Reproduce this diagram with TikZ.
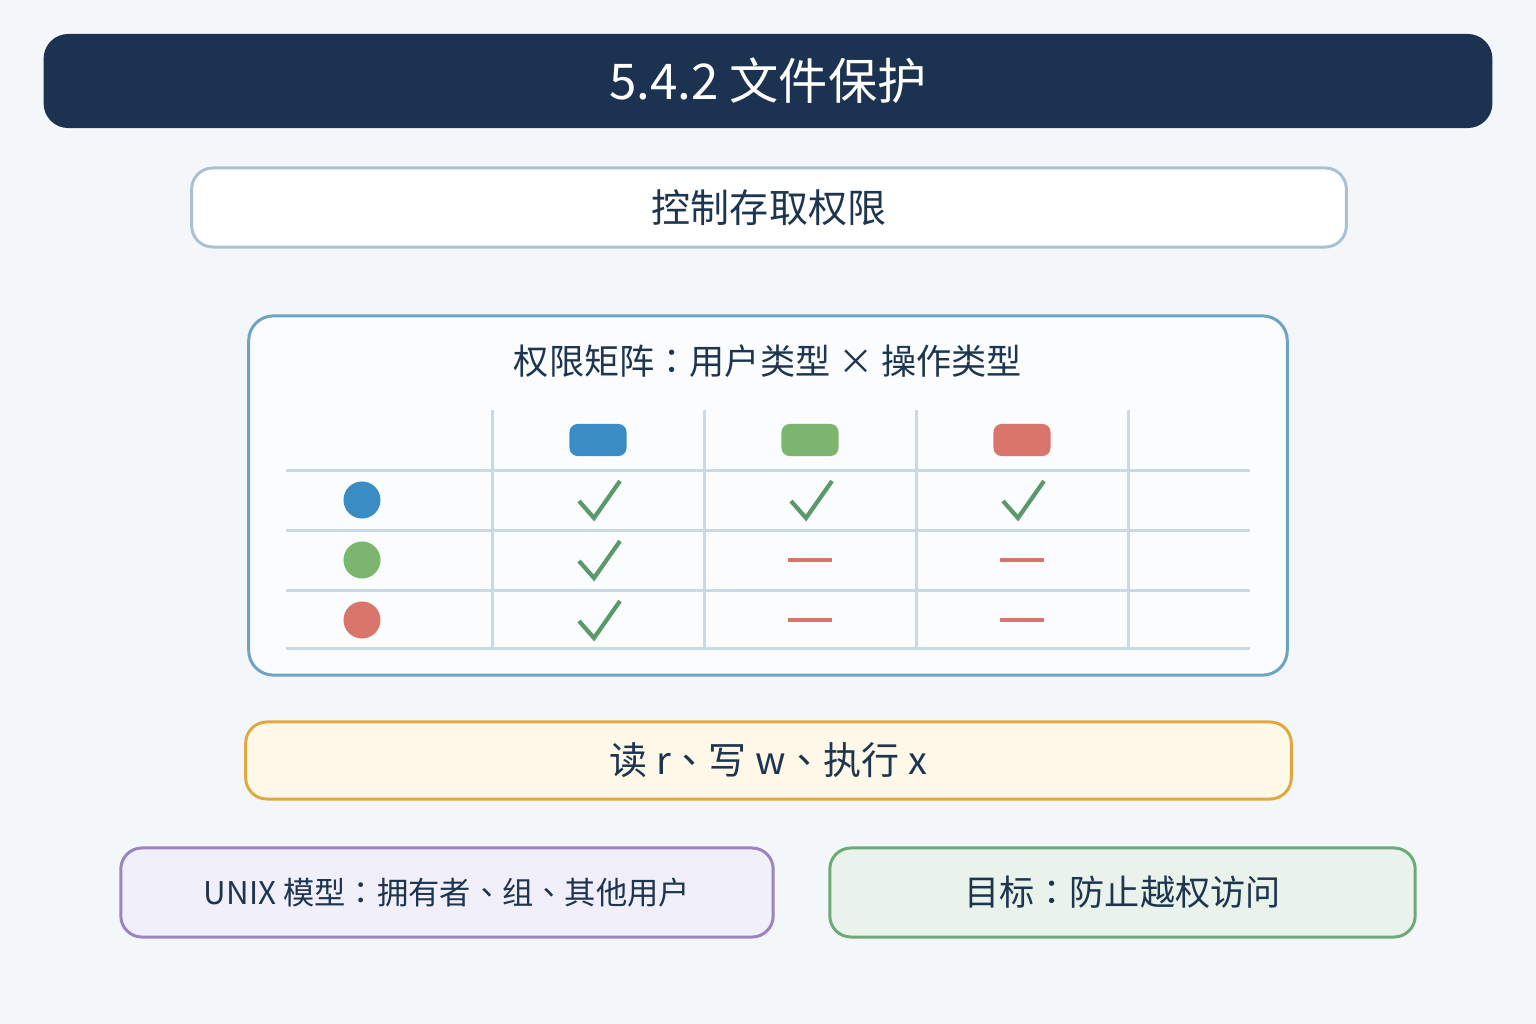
\documentclass[tikz,border=0pt]{standalone}
\usepackage{fontspec}
\setmainfont{Noto Sans CJK SC}
\newfontfamily\tcpunct{Noto Sans CJK TC}
\newcommand{\cm}{{\tcpunct ：}}
\newcommand{\dn}{{\tcpunct 、}}
\usetikzlibrary{positioning}
\definecolor{bgcol}{HTML}{F4F7FA}
\definecolor{navy}{HTML}{1B3350}
\definecolor{inkcol}{HTML}{1E3550}
\definecolor{paleline}{HTML}{A9C1D3}
\definecolor{matline}{HTML}{6FA3C4}
\definecolor{gridcol}{HTML}{C9DAE6}
\definecolor{ublue}{HTML}{3A8DC4}
\definecolor{ugreen}{HTML}{7BB56E}
\definecolor{ured}{HTML}{D9756A}
\definecolor{tickcol}{HTML}{5A9A6A}
\definecolor{yelfill}{HTML}{FEF8E8}
\definecolor{yelline}{HTML}{E0A940}
\definecolor{purfill}{HTML}{F1EFF9}
\definecolor{purline}{HTML}{9B84C0}
\definecolor{grnfill}{HTML}{E9F3EC}
\definecolor{grnline}{HTML}{6DAA78}
\tikzset{
  panel/.style={draw, line width=0.85pt, rounded corners=6pt, text=inkcol, inner sep=0pt},
  pill/.style={rounded corners=2.3pt, minimum width=0.57cm, minimum height=0.32cm, inner sep=0pt},
  dot/.style={circle, minimum size=0.37cm, inner sep=0pt},
  tick/.style={tickcol, line width=1.2pt},
  nope/.style={ured, line width=1.4pt}
}
\begin{document}
\begin{tikzpicture}[x=0.01cm, y=-0.01cm]
  \fill[bgcol] (0,0) rectangle (1536,1024);
  \useasboundingbox (0,0) rectangle (1536,1024);
  % title
  \node[fill=navy, rounded corners=7pt, minimum width=14.48cm, minimum height=0.94cm, text=white, font=\fontsize{14}{16}\selectfont] (title) at (768,81) {5.4.2 文件保护};
  \node[panel, draw=paleline, fill=white, minimum width=11.54cm, minimum height=0.79cm, font=\fontsize{11.1}{13}\selectfont] (ctrl) at (769,207.5) {控制存取权限};
  % matrix panel
  \node[panel, draw=matline, fill=white!60!bgcol, rounded corners=7pt, minimum width=10.38cm, minimum height=3.59cm] (mat) at (768,495.5) {};
  \node[text=inkcol, font=\fontsize{10}{12}\selectfont] (mattitle) at (768,361) {权限矩阵\cm 用户类型 × 操作类型};
  \foreach \y in {470,530,590,648}
    \draw[gridcol, line width=0.85pt] (286,\y) -- (1250,\y);
  \foreach \x in {492,704,916,1128}
    \draw[gridcol, line width=0.85pt] (\x,410) -- (\x,648);
  \node[pill, fill=ublue] (opr) at (598,440) {};
  \node[pill, fill=ugreen] (opw) at (810,440) {};
  \node[pill, fill=ured] (opx) at (1022,440) {};
  \node[dot, fill=ublue] (owner) at (362,500) {};
  \node[dot, fill=ugreen] (group) at (362,560) {};
  \node[dot, fill=ured] (other) at (362,620) {};
  % ticks and dashes
  \foreach \x/\y in {598/500, 810/500, 1022/500, 598/560, 598/620}
    \draw[tick] (\x-19,\y+1) -- (\x-4,\y+18) -- (\x+22,\y-19);
  \foreach \x/\y in {810/560, 1022/560, 810/620, 1022/620}
    \draw[nope] (\x-22,\y) -- (\x+22,\y);
  % bottom boxes
  \node[panel, draw=yelline, fill=yelfill, minimum width=10.45cm, minimum height=0.77cm, font=\fontsize{10.8}{13}\selectfont] (rwx) at (768.5,760.5) {读 r\dn 写 w\dn 执行 x};
  \node[panel, draw=purline, fill=purfill, minimum width=6.52cm, minimum height=0.89cm, font=\fontsize{8.9}{11}\selectfont] (unix) at (447,892.5) {UNIX 模型\cm 拥有者\dn 组\dn 其他用户};
  \node[panel, draw=grnline, fill=grnfill, minimum width=5.85cm, minimum height=0.89cm, font=\fontsize{10}{12}\selectfont] (goal) at (1122.5,892.5) {目标\cm 防止越权访问};
\end{tikzpicture}
\end{document}
